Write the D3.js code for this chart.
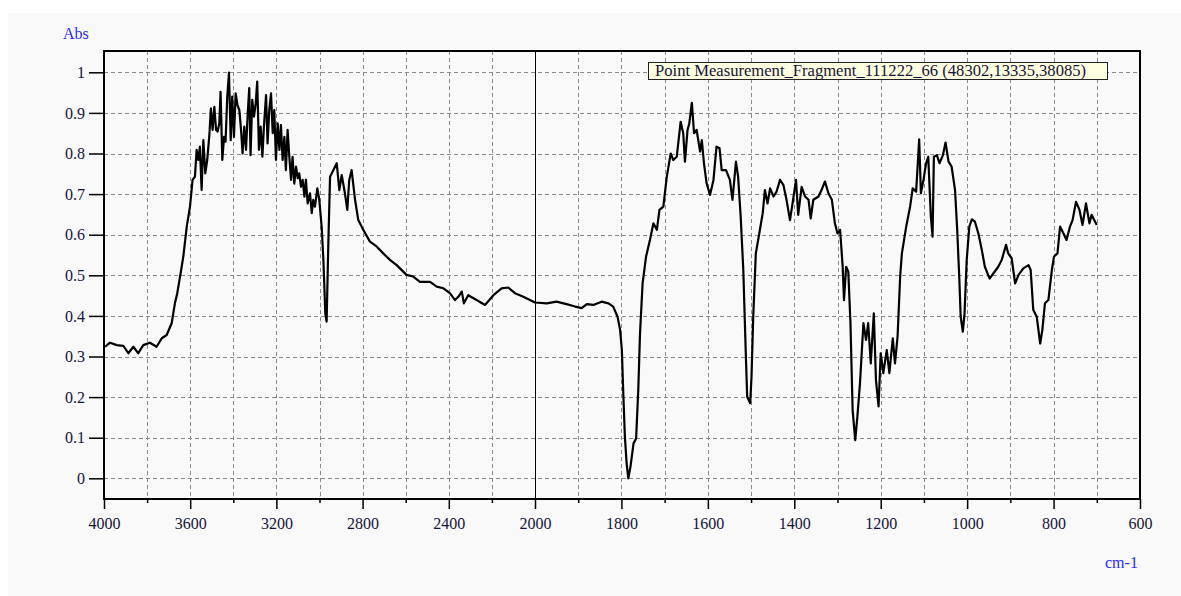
<!DOCTYPE html>
<html>
<head>
<meta charset="utf-8">
<script src="https://cdn.jsdelivr.net/npm/d3@7/dist/d3.min.js"></script>
<style>
  body { margin: 0; background: #ffffff; }
  svg { display: block; }
  text { font-family: "Liberation Serif", "Times New Roman", serif; }
</style>
</head>
<body>
<svg id="chart" width="1181" height="596"></svg>
<script>
// ---- data ----
const wavenumber = [3995,3972,3941,3910,3887,3864,3841,3818,3787,3756,3732,3709,3686,3671,3660,3647,3632,
  3616,3601,3589,3578,3570,3562,3555,3547,3539,3530,3521,3511,3504,3496,3488,3480,3473,3465,3459,3451,3443,3436,3428,3420,3412,3405,3397,3389,3381,3372,3364,3357,3349,3341,3333,3326,3320,3312,3304,3296,3289,3281,3273,3265,3258,3248,3241,3233,3225,3217,3210,3202,3194,3186,3179,3171,3163,3156,3148,3140,3132,3125,3117,3109,3101,3094,3086,3078,3070,3063,3055,3044,3036,3029,3021,3010,3001,2990,
  2982,2973,2967,2959,2951,2936,2920,2908,2897,2882,2871,2862,2851,2835,2820,2797,2766,2735,2704,2673,2642,2596,2565,2534,2487,2456,2425,2395,2371,2356,2340,2330,2310,2271,2232,2193,2155,2124,2093,2054,2000,1973,1950,1927,1907,1892,1880,1865,1846,1830,1819,1809,1803,1799,1796,1792,1788,1784,1779,1772,1766,1761,1757,1751,1743,1734,1726,1718,1712,1703,1695,1686,1680,1672,1663,1657,1653,1647,1643,1637,1632,1626,1618,1614,1609,1603,1595,1587,1580,1573,1568,1558,1549,1543,1535,1530,1524,1518,1512,1509,1502,1499,1495,1489,1481,1473,1468,1462,1456,1448,1441,1433,1425,1418,1410,1404,1396,1391,1383,1375,1367,1362,1356,1344,1337,1329,1321,1313,1306,1300,1294,1288,1285,1280,1275,1270,1265,1259,1254,1248,1240,1234,1229,1223,1216,1211,1205,1200,1194,1186,1180,1172,1167,1161,1155,1151,1141,1132,1126,1118,1111,1107,1101,1095,1090,1084,1080,1077,1070,1064,1056,1050,1043,1036,1028,1023,1018,1015,1010,1006,1001,995,989,982,974,966,959,948,939,928,920,910,905,897,889,881,870,858,853,847,839,831,826,820,812,804,799,791,785,777,770,762,756,748,740,733,725,717,712,706,700];
const absorbance = [0.324,0.334,0.328,0.326,0.308,0.324,0.308,0.328,0.334,0.324,0.345,0.353,0.382,0.431,0.456,0.497,0.546,
  0.620,0.669,0.735,0.743,0.809,0.784,0.817,0.710,0.833,0.751,0.784,0.846,0.911,0.858,0.915,0.858,0.854,0.874,0.952,0.784,0.841,0.829,0.940,0.999,0.833,0.940,0.841,0.948,0.920,0.907,0.858,0.800,0.866,0.809,0.899,0.961,0.796,0.932,0.891,0.924,0.977,0.809,0.866,0.792,0.866,0.944,0.825,0.907,0.948,0.850,0.907,0.784,0.874,0.809,0.870,0.784,0.841,0.759,0.858,0.792,0.735,0.792,0.726,0.768,0.739,0.751,0.718,0.735,0.694,0.735,0.677,0.702,0.653,0.686,0.669,0.714,0.686,0.620,
  0.538,0.406,0.386,0.579,0.743,0.759,0.776,0.710,0.747,0.702,0.661,0.735,0.759,0.686,0.636,0.612,0.583,0.571,0.554,0.538,0.525,0.501,0.497,0.484,0.484,0.472,0.468,0.456,0.439,0.447,0.460,0.431,0.451,0.439,0.427,0.451,0.468,0.470,0.456,0.447,0.433,0.431,0.435,0.429,0.423,0.419,0.429,0.427,0.435,0.431,0.423,0.398,0.365,0.316,0.218,0.103,0.037,0.000,0.029,0.086,0.098,0.218,0.357,0.480,0.546,0.587,0.628,0.612,0.661,0.669,0.743,0.800,0.784,0.792,0.878,0.850,0.780,0.858,0.874,0.925,0.850,0.858,0.805,0.833,0.776,0.727,0.698,0.735,0.817,0.813,0.759,0.759,0.735,0.686,0.780,0.743,0.644,0.513,0.300,0.201,0.185,0.250,0.398,0.554,0.603,0.653,0.710,0.677,0.714,0.694,0.706,0.735,0.722,0.686,0.636,0.677,0.735,0.649,0.718,0.694,0.686,0.640,0.686,0.694,0.710,0.731,0.702,0.686,0.628,0.603,0.612,0.521,0.439,0.521,0.509,0.382,0.168,0.094,0.152,0.234,0.382,0.341,0.382,0.283,0.406,0.242,0.177,0.308,0.259,0.316,0.259,0.345,0.283,0.349,0.497,0.554,0.620,0.669,0.714,0.706,0.835,0.702,0.735,0.776,0.792,0.644,0.595,0.792,0.796,0.776,0.796,0.827,0.780,0.768,0.710,0.612,0.489,0.398,0.361,0.406,0.538,0.620,0.638,0.632,0.603,0.562,0.521,0.492,0.505,0.521,0.538,0.575,0.554,0.542,0.480,0.501,0.517,0.525,0.513,0.415,0.398,0.332,0.365,0.431,0.439,0.513,0.546,0.554,0.620,0.603,0.587,0.620,0.636,0.681,0.661,0.624,0.677,0.628,0.649,0.636,0.624];

const xMajorTicks = [4000,3600,3200,2800,2400,2000,1800,1600,1400,1200,1000,800,600];
const xMinorTicks = [3800,3400,3000,2600,2200,1900,1700,1500,1300,1100,900,700];
const yTicks = [0,0.1,0.2,0.3,0.4,0.5,0.6,0.7,0.8,0.9,1];
const yLabel = "Abs";
const xLabel = "cm-1";
const legendText = "Point Measurement_Fragment_111222_66 (48302,13335,38085)";

// ---- layout ----
const W = 1181, H = 596;
const plot = { left: 104, right: 1140, top: 51, bottom: 499 };

const svg = d3.select("#chart");
svg.append("rect").attr("x", 8).attr("y", 13).attr("width", W - 8).attr("height", H - 13).attr("fill", "#f9f9f9");

// piecewise x scale (break at 2000)
const x = d3.scaleLinear().domain([4000, 2000, 600]).range([plot.left, 535, plot.right]);
const y = d3.scaleLinear().domain([0, 1]).range([478.3, 72.3]);

// grid
const grid = svg.append("g").attr("stroke", "#8a8a8a").attr("stroke-width", 1).attr("stroke-dasharray", "4,3");
yTicks.forEach(v => {
  grid.append("line").attr("x1", plot.left).attr("x2", plot.right)
    .attr("y1", Math.round(y(v)) + 0.5).attr("y2", Math.round(y(v)) + 0.5);
});
xMajorTicks.concat(xMinorTicks).filter(v => v !== 2000 && v !== 4000 && v !== 600).forEach(v => {
  grid.append("line").attr("y1", plot.top).attr("y2", plot.bottom)
    .attr("x1", Math.round(x(v)) + 0.5).attr("x2", Math.round(x(v)) + 0.5);
});

// break line at 2000
svg.append("line").attr("x1", Math.round(x(2000)) + 0.5).attr("x2", Math.round(x(2000)) + 0.5)
  .attr("y1", plot.top).attr("y2", plot.bottom).attr("stroke", "#000").attr("stroke-width", 1);

// spectrum
const pts = wavenumber.map((w, i) => [w, absorbance[i]]);
const line = d3.line().x(d => x(d[0])).y(d => y(d[1]));
svg.append("path").datum(pts).attr("d", line).attr("fill", "none")
  .attr("stroke", "#000").attr("stroke-width", 2.2).attr("stroke-linejoin", "round");

// frame
svg.append("rect").attr("x", plot.left).attr("y", plot.top)
  .attr("width", plot.right - plot.left).attr("height", plot.bottom - plot.top)
  .attr("fill", "none").attr("stroke", "#000").attr("stroke-width", 2);

// x axis
const xAxis = d3.axisBottom(x).tickValues(xMajorTicks).tickSize(10).tickSizeOuter(0).tickPadding(9)
  .tickFormat(d3.format("d"));
const gx = svg.append("g").attr("transform", `translate(0,${plot.bottom})`).call(xAxis);
gx.select(".domain").remove();
gx.selectAll(".tick line").attr("stroke", "#000").attr("stroke-width", 1.5);
gx.selectAll(".tick text").attr("font-size", 16).attr("fill", "#141438")
  .attr("font-family", "'Liberation Serif', serif");

const xMinor = d3.axisBottom(x).tickValues(xMinorTicks).tickSize(4).tickSizeOuter(0).tickFormat("");
const gxm = svg.append("g").attr("transform", `translate(0,${plot.bottom})`).call(xMinor);
gxm.select(".domain").remove();
gxm.selectAll(".tick line").attr("stroke", "#000").attr("stroke-width", 1.5);

// y axis
const yAxis = d3.axisLeft(y).tickValues(yTicks).tickSize(15).tickSizeOuter(0).tickPadding(4)
  .tickFormat(d => String(+d.toFixed(1)));
const gy = svg.append("g").attr("transform", `translate(${plot.left},0)`).call(yAxis);
gy.select(".domain").remove();
gy.selectAll(".tick line").attr("stroke", "#000").attr("stroke-width", 1.5);
gy.selectAll(".tick text").attr("font-size", 16).attr("fill", "#141438")
  .attr("font-family", "'Liberation Serif', serif");

// axis titles
svg.append("text").attr("x", 63).attr("y", 39).attr("font-size", 16).attr("fill", "#2b2bff").text(yLabel);
svg.append("text").attr("x", 1105).attr("y", 568).attr("font-size", 16).attr("fill", "#2b2bff").text(xLabel);

// legend box
const lg = svg.append("g");
lg.append("rect").attr("x", 648.5).attr("y", 62.5).attr("width", 459).attr("height", 17)
  .attr("fill", "#ffffe1").attr("stroke", "#222").attr("stroke-width", 1);
lg.append("text").attr("x", 655).attr("y", 76).attr("font-size", 16.6).attr("fill", "#141438").text(legendText);
</script>
</body>
</html>
